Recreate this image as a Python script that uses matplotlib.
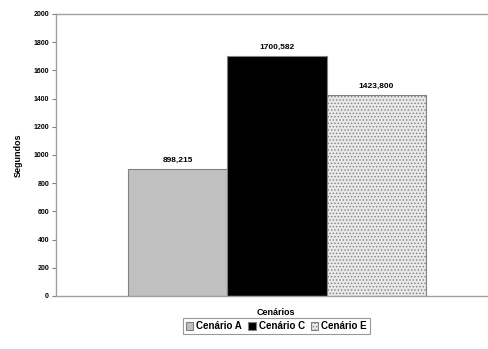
import numpy as np
import matplotlib
matplotlib.use('Agg')
import matplotlib.pyplot as plt

plt.rcParams['font.family'] = ['Liberation Sans', 'DejaVu Sans']
plt.rcParams['hatch.color'] = '#c4c4c4'
plt.rcParams['hatch.linewidth'] = 0.6

cenarios = ['Cenário A', 'Cenário C', 'Cenário E']
segundos = [898.215, 1700.582, 1423.800]
rotulos = ['898,215', '1700,582', '1423,800']
yticks = [0, 200, 400, 600, 800, 1000, 1200, 1400, 1600, 1800, 2000]

fig = plt.figure(figsize=(4.89, 3.49), dpi=100)
ax = fig.add_axes([0.1145, 0.152, 0.8855, 0.808])

x = np.arange(len(cenarios))
faces = ['#c0c0c0', '#000000', '#e8e8e8']
hatches = [None, None, '.....']
bars = []
for i in range(len(cenarios)):
    b = ax.bar(x[i], segundos[i], width=1.0, color=faces[i], edgecolor='#808080',
               linewidth=0.8, hatch=hatches[i], label=cenarios[i])
    bars.append(b)
    ax.text(x[i], segundos[i] + 40, rotulos[i], ha='center', va='bottom',
            fontsize=6, fontweight='bold')

ax.set_xlim(-1.225, 3.135)
ax.set_ylim(0, 2000)
ax.set_yticks(yticks)
ax.set_yticklabels([str(t) for t in yticks], fontsize=5, fontweight='bold')
ax.set_xticks([])
ax.tick_params(axis='y', length=3, width=0.8, color='#808080', pad=2)
for s in ['left', 'bottom', 'top']:
    ax.spines[s].set_color('#a0a0a0')
    ax.spines[s].set_linewidth(1.0)
ax.spines['right'].set_visible(False)

ax.set_ylabel('Segundos', fontsize=6.5, fontweight='bold', labelpad=8)
fig.text(0.565, 0.104, 'Cenários', ha='center', va='center', fontsize=6.5, fontweight='bold')

leg = fig.legend(handles=[b[0] for b in bars], labels=cenarios, loc='center',
                 bbox_to_anchor=(0.565, 0.065), ncol=3,
                 prop={'weight': 'bold', 'size': 7}, frameon=True, fancybox=False,
                 handlelength=0.8, handleheight=0.8, handletextpad=0.3,
                 columnspacing=0.6, borderpad=0.3)
leg.get_frame().set_edgecolor('#808080')
leg.get_frame().set_linewidth(0.8)

fig.savefig('out.png', dpi=100)
